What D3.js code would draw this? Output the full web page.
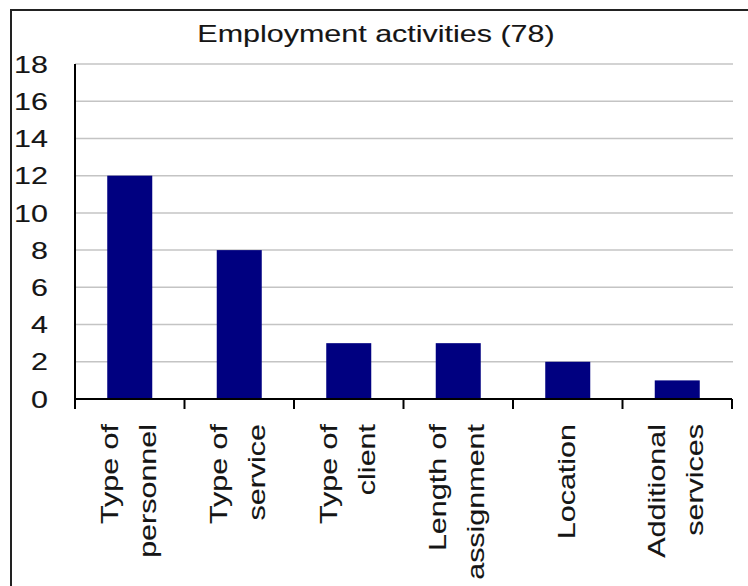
<!DOCTYPE html>
<html>
<head>
<meta charset="utf-8">
<script src="https://cdn.jsdelivr.net/npm/d3@7"></script>
<style>
  html, body { margin: 0; padding: 0; background: #fff; }
  svg { display: block; }
  text { font-family: "Liberation Sans", Arial, sans-serif; fill: #151515; stroke: #151515; stroke-width: 0.12px; }
</style>
</head>
<body>
<svg id="chart" width="748" height="586"></svg>
<script>
const title = "Employment activities (78)";
const categories = [
  ["Type of", "personnel"],
  ["Type of", "service"],
  ["Type of", "client"],
  ["Length of", "assignment"],
  ["Location"],
  ["Additional", "services"]
];
const values = [12, 8, 3, 3, 2, 1];
const yTicks = [0, 2, 4, 6, 8, 10, 12, 14, 16, 18];

const svg = d3.select("#chart");
const plotL = 75, plotR = 732, plotT = 64, plotB = 399;
const fontSize = 24, stretch = 1.27;

// outer frame
svg.append("rect")
  .attr("x", 11).attr("y", 10)
  .attr("width", 760).attr("height", 600)
  .attr("fill", "none").attr("stroke", "#222").attr("stroke-width", 2);

const x = d3.scaleBand()
  .domain(categories.map((d, i) => i))
  .range([plotL, plotR])
  .paddingInner(0.589)
  .paddingOuter(0.589 / 2);

const y = d3.scaleLinear().domain([0, 18]).range([plotB, plotT]);

// gridlines
svg.append("g").selectAll("line")
  .data(yTicks.filter(t => t > 0))
  .join("line")
  .attr("x1", plotL).attr("x2", plotR + 1)
  .attr("y1", d => y(d)).attr("y2", d => y(d))
  .attr("stroke", "#c4c4c4").attr("stroke-width", 1.5);

// bars
svg.append("g").selectAll("rect")
  .data(values)
  .join("rect")
  .attr("x", (d, i) => x(i))
  .attr("width", x.bandwidth())
  .attr("y", d => y(d))
  .attr("height", d => y(0) - y(d))
  .attr("fill", "#000080");

// y axis line
svg.append("line")
  .attr("x1", plotL).attr("x2", plotL)
  .attr("y1", y(18)).attr("y2", y(0) + 1)
  .attr("stroke", "#000").attr("stroke-width", 2);

// x axis line
svg.append("line")
  .attr("x1", plotL).attr("x2", plotR)
  .attr("y1", y(0)).attr("y2", y(0))
  .attr("stroke", "#000").attr("stroke-width", 2);

// x ticks at band boundaries
const step = x.step();
const bounds = categories.map((d, i) => x(i) - step * x.paddingInner() / 2).concat([plotR]);
svg.append("g").selectAll("line")
  .data(bounds)
  .join("line")
  .attr("x1", d => d).attr("x2", d => d)
  .attr("y1", y(0)).attr("y2", y(0) + 10)
  .attr("stroke", "#000").attr("stroke-width", 2);

// y tick labels
svg.append("g").selectAll("text")
  .data(yTicks)
  .join("text")
  .attr("transform", d => `translate(48,${y(d)}) scale(${stretch},1)`)
  .attr("dy", "0.36em")
  .attr("text-anchor", "end")
  .style("font-size", fontSize + "px")
  .text(d => d);

// title
svg.append("text")
  .attr("transform", `translate(376,42) scale(${stretch},1)`)
  .attr("text-anchor", "middle")
  .style("font-size", fontSize + "px")
  .text(title);

// category labels (rotated)
const lineH = 38, off = 7;
const lab = svg.append("g");
categories.forEach((lines, i) => {
  const cx = x(i) + x.bandwidth() / 2;
  const n = lines.length;
  lines.forEach((s, j) => {
    const bx = cx + off + (j - (n - 1) / 2) * lineH;
    lab.append("text")
      .attr("transform", `translate(${bx},424) rotate(-90) scale(${stretch},1)`)
      .attr("text-anchor", "end")
      .style("font-size", fontSize + "px")
      .text(s);
  });
});
</script>
</body>
</html>
